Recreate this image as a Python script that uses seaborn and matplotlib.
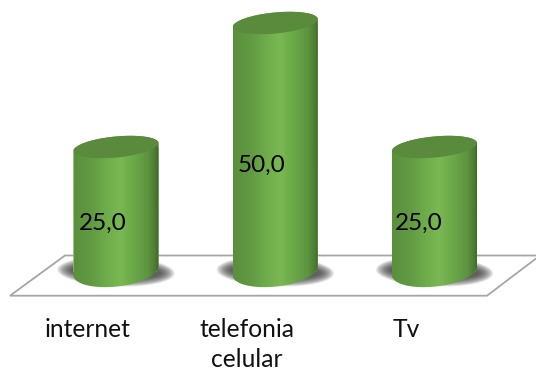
import numpy as np
import pandas as pd
import matplotlib
matplotlib.use("Agg")
import matplotlib.pyplot as plt
import seaborn as sns
from matplotlib.colors import LinearSegmentedColormap
from matplotlib.patches import Polygon

categories = ["internet", "telefonia\ncelular", "Tv"]
values = [25.0, 50.0, 25.0]
value_labels = ["25,0", "50,0", "25,0"]

W, H = 536, 371
PX_X = 159.25          # pixels per category step
PX_Y = 4.96            # pixels per value unit
X0 = 116.0             # pixel of first category
BASE = 271.0           # pixel row of value 0

sns.set_theme(style="white")
plt.rcParams["font.family"] = ["Lato", "DejaVu Sans"]

fig = plt.figure(figsize=(W / 100, H / 100), dpi=100)
ax = fig.add_axes([0, 0, 1, 1])
xlim = (-X0 / PX_X, (W - X0) / PX_X)
ylim = (-(H - BASE) / PX_Y, BASE / PX_Y)

df = pd.DataFrame({"cat": categories, "val": values})
sns.barplot(data=df, x="cat", y="val", color="#6aa648", width=85.5 / PX_X,
            saturation=1, ax=ax, zorder=3)
bars = list(ax.containers[0])


def px(x, y):
    return (x - X0) / PX_X, (BASE - y) / PX_Y


def ellipse(cx, cy, a, b, deg, t):
    th = np.radians(deg)
    dx = a * np.cos(t) * np.cos(th) - b * np.sin(t) * np.sin(th)
    dy = a * np.cos(t) * np.sin(th) + b * np.sin(t) * np.cos(th)
    return cx + dx / PX_X, cy + dy / PX_Y


# floor
floor = [px(10, 295.7), px(65, 255.5), px(540, 255.5), px(487, 295.7)]
ax.add_patch(Polygon(floor, closed=True, fc="white", ec="#a6a6a6", lw=1.3, zorder=1))

cmap = LinearSegmentedColormap.from_list("cyl", [
    (0.00, "#5a8f3c"), (0.22, "#629b43"), (0.38, "#6dac4a"), (0.55, "#79b852"),
    (0.72, "#6aa748"), (0.88, "#5c933f"), (0.96, "#4c7a33"), (1.00, "#3c6229")])
grad = np.linspace(0, 1, 256)[None, :]

for patch in bars:
    cx = patch.get_x() + patch.get_width() / 2
    a_px = patch.get_width() * PX_X / 2
    top = patch.get_height()

    # soft shadow under the cylinder
    for k in np.linspace(1.0, 0.0, 14):
        sx, sy = ellipse(cx, -0.1, a_px + 2 + 14 * k, 7 + 8 * k, -2,
                         np.linspace(0, 2 * np.pi, 80))
        ax.fill(sx, sy, color="#3a3a3a", alpha=0.10, lw=0, zorder=2)

    # silhouette: upper half of top rim, then lower half of bottom rim
    tx, ty = ellipse(cx, top, a_px, 10.5, 5.5, np.linspace(np.pi, 0, 80))
    bx, by = ellipse(cx, 0, a_px, 15.5, 6.5, np.linspace(0, -np.pi, 80))
    verts = np.column_stack([np.r_[tx, bx], np.r_[ty, by]])
    clip = Polygon(verts, closed=True, transform=ax.transData, fc="none", ec="none")
    ax.add_patch(clip)
    patch.set_clip_path(clip)

    im = ax.imshow(grad, cmap=cmap, aspect="auto", zorder=3.1,
                   extent=(cx - a_px / PX_X, cx + a_px / PX_X, -5, top + 5))
    im.set_clip_path(clip)

    # top cap
    ex, ey = ellipse(cx, top, a_px - 0.5, 10.5, 5.5, np.linspace(0, 2 * np.pi, 120))
    ax.fill(ex, ey, color="#5a8a3c", lw=0, zorder=3.2)

ax.set_xlim(*xlim)
ax.set_ylim(*ylim)

# value labels (offsets in points)
label_shift = [(-9.4, -10.5), (-9.7, -13.5), (-11.5, -10.5)]
for i, (v, s) in enumerate(zip(values, value_labels)):
    ax.annotate(s, xy=(i, v / 2), xytext=label_shift[i],
                textcoords="offset points", ha="center", va="center",
                fontsize=17.5, color="black", zorder=5)

# category labels
cat_shift = -0.176
for i, c in enumerate(categories):
    ax.annotate(c, xy=(i + cat_shift, (BASE - 318) / PX_Y),
                ha="center", va="top", xytext=(0, 0), textcoords="offset points",
                fontsize=17.7, color="#111111", linespacing=1.35, zorder=5)

ax.set_xticks([])
ax.set_yticks([])
ax.set_xlabel("")
ax.set_ylabel("")
sns.despine(ax=ax, left=True, bottom=True)
fig.savefig("out.png", dpi=100, facecolor="white")
